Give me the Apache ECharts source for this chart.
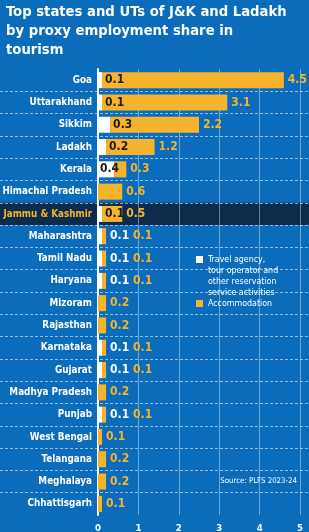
<!DOCTYPE html>
<html>
<head>
<meta charset="utf-8">
<script src="https://cdn.jsdelivr.net/npm/echarts@6/dist/echarts.min.js"></script>
<style>
  html, body { margin: 0; padding: 0; background: #0b6cbb; }
  #main { width: 309px; height: 532px; }
</style>
</head>
<body>
<div id="main"></div>
<script>
// data
const states = ['Goa', 'Uttarakhand', 'Sikkim', 'Ladakh', 'Kerala', 'Himachal Pradesh',
  'Jammu & Kashmir', 'Maharashtra', 'Tamil Nadu', 'Haryana', 'Mizoram', 'Rajasthan',
  'Karnataka', 'Gujarat', 'Madhya Pradesh', 'Punjab', 'West Bengal', 'Telangana',
  'Meghalaya', 'Chhattisgarh'];
const travel = [0.1, 0.1, 0.3, 0.2, 0.4, 0, 0.1, 0.1, 0.1, 0.1, 0, 0, 0.1, 0.1, 0, 0.1, 0, 0, 0, 0];
const accommodation = [4.5, 3.1, 2.2, 1.2, 0.3, 0.6, 0.5, 0.1, 0.1, 0.1, 0.2, 0.2, 0.1, 0.1, 0.2, 0.1, 0.1, 0.2, 0.2, 0.1];
const xTicks = [0, 1, 2, 3, 4, 5];
const highlight = 'Jammu & Kashmir';

const BLUE = '#0b6cbb';
const ORANGE = '#f6b42c';
const NAVY = '#0c2b4d';
const DARK = '#1a1a1a';
const FONT = "'Liberation Sans Narrow', 'DejaVu Sans Condensed', sans-serif";

const travelName = 'Travel agency, tour operator and other reservation service activities';
const accName = 'Accommodation';

// where the white-bar label sits depends on how much room the bars leave
function outsideTravel(i) {
  return travel[i] > 0 && travel[i] < 0.4 && accommodation[i] < 0.5;
}

const travelData = travel.map((v, i) => {
  let label;
  if (v === 0) {
    label = { show: false };
  } else if (v >= 0.4) {
    label = { show: true, position: 'insideLeft', distance: 2, color: DARK };
  } else if (accommodation[i] >= 0.5) {
    label = { show: true, position: 'right', distance: 3, color: DARK };
  } else {
    label = { show: true, position: 'right', distance: 8, color: '#ffffff' };
  }
  return { value: v, label: label };
});

const accData = accommodation.map((v, i) => ({
  value: v,
  label: { show: true, position: 'right', distance: outsideTravel(i) ? 27 : 4, color: ORANGE }
}));

const myChart = echarts.init(document.getElementById('main'));

myChart.setOption({
  backgroundColor: BLUE,
  animation: false,
  textStyle: { fontFamily: FONT },
  title: [{
    text: 'Top states and UTs of J&K and Ladakh\nby proxy employment share in\ntourism',
    left: 6,
    top: 3,
    padding: 0,
    textStyle: { color: '#ffffff', fontSize: 14.7, fontWeight: 'bold', lineHeight: 19, fontFamily: FONT }
  }, {
    text: 'Source: PLFS 2023-24',
    right: 12,
    top: 477,
    padding: 0,
    textStyle: { color: '#ffffff', fontSize: 7.8, fontWeight: 'normal', fontFamily: FONT }
  }],
  legend: {
    orient: 'vertical',
    left: 196,
    top: 221,
    padding: 0,
    itemGap: 0,
    itemWidth: 7,
    itemHeight: 7,
    icon: 'rect',
    data: [travelName, accName],
    // blank lines on top keep the square level with the first text line
    formatter: function (name) {
      return name === travelName
        ? ' \n \n \nTravel agency,\ntour operator and\nother reservation\nservice activities'
        : name;
    },
    textStyle: { color: '#ffffff', fontSize: 8.8, lineHeight: 11, fontFamily: FONT }
  },
  grid: [
    { left: 0, right: 0, top: 69, bottom: 17, outerBoundsMode: 'none' },
    { left: 98, right: 9, top: 69, bottom: 17, outerBoundsMode: 'none' }
  ],
  xAxis: [{
    gridIndex: 0, type: 'value', min: 0, max: 1, show: false
  }, {
    gridIndex: 1,
    type: 'value',
    min: xTicks[0],
    max: xTicks[xTicks.length - 1],
    interval: 1,
    axisLine: { show: false },
    axisTick: { show: false },
    axisLabel: { color: '#ffffff', fontSize: 9.5, fontWeight: 'bold', margin: 9, fontFamily: FONT },
    splitLine: { show: true, lineStyle: { color: 'rgba(255,255,255,0.4)', width: 1 } }
  }],
  yAxis: [{
    gridIndex: 0,
    type: 'category',
    inverse: true,
    data: states,
    axisLine: { show: false },
    axisTick: { show: false },
    axisLabel: { show: false },
    splitLine: { show: true, showMinLine: false, showMaxLine: false,
      lineStyle: { color: 'rgba(255,255,255,0.55)', type: [3, 2], width: 1 } },
    splitArea: { show: true, areaStyle: {
      color: states.map(s => s === highlight ? NAVY : 'rgba(0,0,0,0)')
    } }
  }, {
    gridIndex: 1,
    type: 'category',
    inverse: true,
    data: states,
    axisLine: { show: true, lineStyle: { color: '#ffffff', width: 2 } },
    axisTick: { show: false },
    axisLabel: {
      color: '#ffffff', fontSize: 9.8, fontWeight: 'bold', margin: 6, fontFamily: FONT,
      formatter: v => v === highlight ? '{hl|' + v + '}' : v,
      rich: { hl: { color: ORANGE, fontSize: 9.8, fontWeight: 'bold', fontFamily: FONT } }
    },
    splitLine: { show: false }
  }],
  series: [{
    name: travelName,
    type: 'bar',
    stack: 'share',
    xAxisIndex: 1,
    yAxisIndex: 1,
    barWidth: 16,
    itemStyle: { color: '#ffffff' },
    label: { fontSize: 12, fontWeight: 'bold', fontFamily: FONT },
    data: travelData
  }, {
    name: accName,
    type: 'bar',
    stack: 'share',
    xAxisIndex: 1,
    yAxisIndex: 1,
    barWidth: 16,
    itemStyle: { color: ORANGE },
    label: { fontSize: 12, fontWeight: 'bold', fontFamily: FONT },
    data: accData
  }]
});
</script>
</body>
</html>
